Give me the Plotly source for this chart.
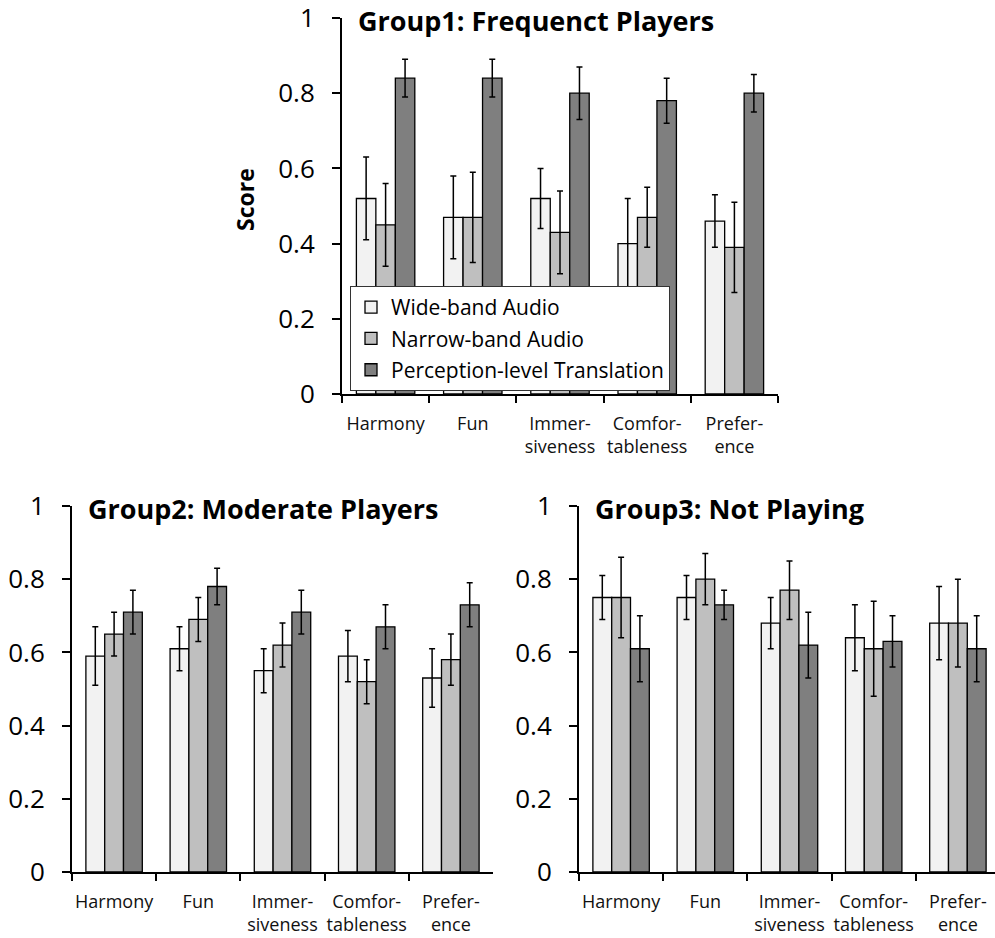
import plotly.graph_objects as go

categories = ["Harmony", "Fun", "Immer-<br>siveness", "Comfor-<br>tableness", "Prefer-<br>ence"]
series_names = ["Wide-band Audio", "Narrow-band Audio", "Perception-level Translation"]
series_colors = ["#f2f2f2", "#bfbfbf", "#7f7f7f"]

# Group 1: frequent players
g1_wide = [0.52, 0.47, 0.52, 0.40, 0.46]
g1_wide_err = [0.11, 0.11, 0.08, 0.12, 0.07]
g1_narrow = [0.45, 0.47, 0.43, 0.47, 0.39]
g1_narrow_err = [0.11, 0.12, 0.11, 0.08, 0.12]
g1_percep = [0.84, 0.84, 0.80, 0.78, 0.80]
g1_percep_err = [0.05, 0.05, 0.07, 0.06, 0.05]

# Group 2: moderate players
g2_wide = [0.59, 0.61, 0.55, 0.59, 0.53]
g2_wide_err = [0.08, 0.06, 0.06, 0.07, 0.08]
g2_narrow = [0.65, 0.69, 0.62, 0.52, 0.58]
g2_narrow_err = [0.06, 0.06, 0.06, 0.06, 0.07]
g2_percep = [0.71, 0.78, 0.71, 0.67, 0.73]
g2_percep_err = [0.06, 0.05, 0.06, 0.06, 0.06]

# Group 3: not playing
g3_wide = [0.75, 0.75, 0.68, 0.64, 0.68]
g3_wide_err = [0.06, 0.06, 0.07, 0.09, 0.10]
g3_narrow = [0.75, 0.80, 0.77, 0.61, 0.68]
g3_narrow_err = [0.11, 0.07, 0.08, 0.13, 0.12]
g3_percep = [0.61, 0.73, 0.62, 0.63, 0.61]
g3_percep_err = [0.09, 0.04, 0.09, 0.07, 0.09]

y_ticks = [0, 0.2, 0.4, 0.6, 0.8, 1]
y_ticktext = ["0", "0.2", "0.4", "0.6", "0.8", "1"]

FONT = "Open Sans"
W, H = 995, 938

panels = [
    ("Group1: Frequenct Players", [(g1_wide, g1_wide_err), (g1_narrow, g1_narrow_err), (g1_percep, g1_percep_err)]),
    ("Group2: Moderate Players", [(g2_wide, g2_wide_err), (g2_narrow, g2_narrow_err), (g2_percep, g2_percep_err)]),
    ("Group3: Not Playing", [(g3_wide, g3_wide_err), (g3_narrow, g3_narrow_err), (g3_percep, g3_percep_err)]),
]

# pixel geometry of each plot area: (left, right, top(y=1), bottom(y=0))
boxes = [(342, 778, 18, 394), (72, 493, 506, 872), (579, 1000, 506, 872)]

fig = go.Figure()

for p, (title, data) in enumerate(panels):
    sfx = "" if p == 0 else str(p + 1)
    for s, (vals, errs) in enumerate(data):
        fig.add_trace(go.Bar(
            x=categories, y=vals, name=series_names[s],
            xaxis="x" + sfx, yaxis="y" + sfx,
            marker=dict(color=series_colors[s], line=dict(color="black", width=1.3)),
            error_y=dict(type="data", array=errs, visible=True,
                         color="black", thickness=1.5, width=3),
            showlegend=(p == 0), legendgroup=series_names[s],
        ))

layout = dict(
    width=W, height=H, margin=dict(l=0, r=0, t=0, b=0, autoexpand=False),
    paper_bgcolor="white", plot_bgcolor="white",
    barmode="group", bargap=0.33, bargroupgap=0,
    font=dict(family=FONT, color="black"),
    legend=dict(
        x=350 / W, y=1 - 286 / H, xanchor="left", yanchor="top",
        bgcolor="white", bordercolor="#333333", borderwidth=1,
        font=dict(size=21, family=FONT), tracegroupgap=1,
        traceorder="grouped", itemwidth=30,
    ),
    annotations=[],
)

for p, (title, _) in enumerate(panels):
    sfx = "" if p == 0 else str(p + 1)
    left, right, top, bottom = boxes[p]
    x_end = min(right, W)
    # extend the category range so a clipped right edge keeps the same bar width
    span = (right - left) / 5.0
    xr = [-0.5, 4.5 - (right - x_end) / span]
    layout["xaxis" + sfx] = dict(
        domain=[left / W, x_end / W], anchor="y" + sfx, range=xr, automargin=False,
        showline=True, linecolor="black", linewidth=2,
        ticks="outside", tickson="boundaries", ticklen=7, tickwidth=2, tickcolor="black",
        tickfont=dict(size=18, family=FONT, color="#111111"), tickangle=0,
        ticklabeloverflow="allow",
        ticklabelstandoff=12, showgrid=False, zeroline=False, fixedrange=True,
    )
    layout["yaxis" + sfx] = dict(
        domain=[1 - bottom / H, 1 - top / H], anchor="x" + sfx, range=[0, 1], automargin=False,
        showline=True, linecolor="black", linewidth=2,
        ticks="outside", ticklen=8, tickwidth=2, tickcolor="black",
        tickvals=y_ticks, ticktext=y_ticktext, ticklabeloverflow="allow",
        tickfont=dict(size=26, family=FONT, color="black"),
        ticklabelstandoff=12, showgrid=False, zeroline=False, fixedrange=True,
    )
    layout["annotations"].append(dict(
        text="<b>" + title + "</b>", xref="paper", yref="paper",
        x=(left + 14) / W, y=1 - (top + 3) / H, xanchor="left", yanchor="middle",
        showarrow=False, font=dict(size=27, family=FONT, color="black"),
    ))

layout["annotations"].append(dict(
    text="<b>Score</b>", xref="paper", yref="paper", textangle=-90,
    x=245 / W, y=1 - 200 / H, xanchor="center", yanchor="middle",
    showarrow=False, font=dict(size=23, family=FONT, color="black"),
))

fig.update_layout(**layout)
fig.write_html("out.html")
